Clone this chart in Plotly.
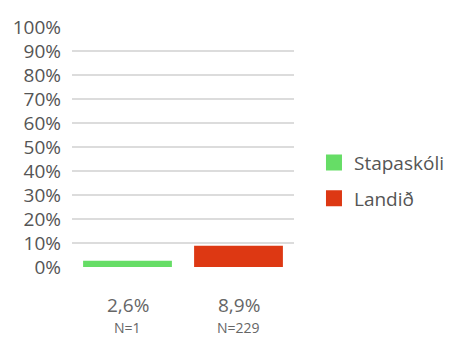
import plotly.graph_objects as go

categories = ["Stapaskóli", "Landið"]
values = [2.6, 8.9]
value_labels = ["2,6%", "8,9%"]
n_labels = ["N=1", "N=229"]
colors = ["#66dd66", "#dd3813"]
y_ticks = list(range(0, 101, 10))
y_ticktext = [f"{v}%" for v in y_ticks]

FONT = "Open Sans, Noto Sans, sans-serif"

fig = go.Figure()
for i, (c, v) in enumerate(zip(categories, values)):
    fig.add_trace(go.Bar(
        x=[c], y=[v], name=c, marker_color=colors[i], marker_line_width=0,
        showlegend=False, hoverinfo="skip",
    ))
# legend entries (square markers)
for i, c in enumerate(categories):
    fig.add_trace(go.Scatter(
        x=[None], y=[None], mode="markers", name=c, legendgroup=c,
        marker=dict(symbol="square", size=16, color=colors[i]),
    ))

for c, vl, nl in zip(categories, value_labels, n_labels):
    fig.add_annotation(x=c, y=0, yref="paper", yshift=-53, text=vl, showarrow=False,
                       font=dict(family=FONT, size=19, color="#666666"))
    fig.add_annotation(x=c, y=0, yref="paper", yshift=-72, text=nl, showarrow=False,
                       font=dict(family=FONT, size=14, color="#666666"))

fig.update_layout(
    width=450, height=338,
    margin=dict(l=72, r=156, t=27, b=71, autoexpand=False),
    paper_bgcolor="white", plot_bgcolor="white",
    barmode="overlay", bargap=0.2,
    font=dict(family=FONT, size=19, color="#555555"),
    showlegend=True,
    legend=dict(x=1.09, y=0.36, xanchor="left", yanchor="middle",
                font=dict(family=FONT, size=19, color="#555555"),
                traceorder="grouped", tracegroupgap=8,
                itemwidth=30, itemsizing="trace"),
    xaxis=dict(showticklabels=False, showgrid=False, zeroline=False, showline=False,
               range=[-0.5, 1.5], automargin=False),
    yaxis=dict(range=[0, 100], tickvals=y_ticks, ticktext=y_ticktext,
               showgrid=True, gridcolor="#dcdcdc", gridwidth=2, zeroline=False,
               showline=False, ticks="", ticklabelstandoff=10, automargin=False,
               tickfont=dict(family=FONT, size=19, color="#555555")),
)

fig.write_html("out.html", config={"displayModeBar": False},
               post_script="document.body.style.margin='0';document.body.style.overflow='hidden';")
